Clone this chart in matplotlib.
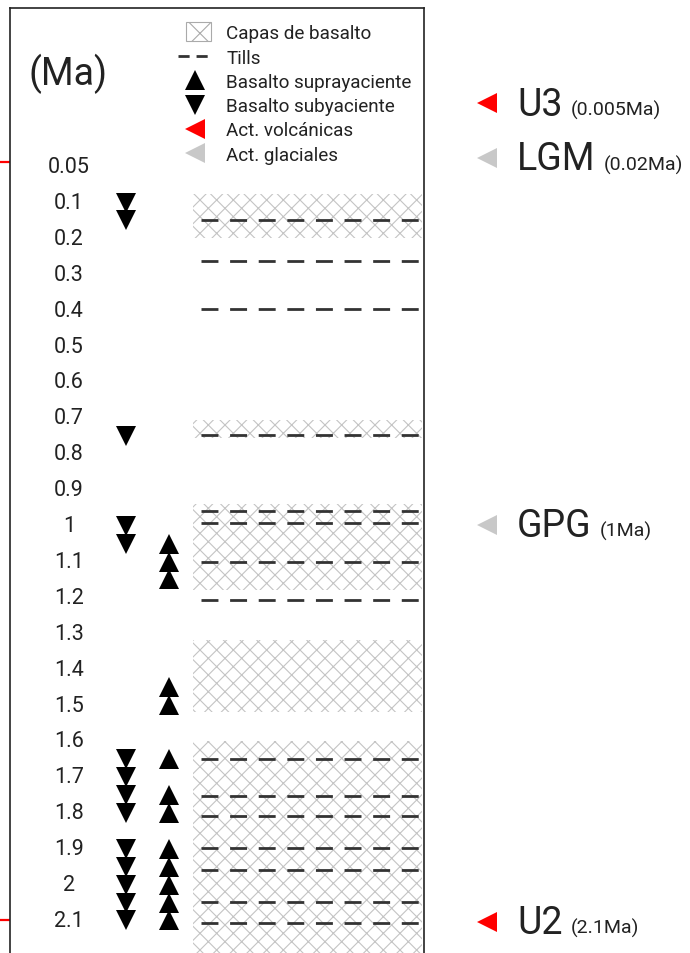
import matplotlib
matplotlib.use("Agg")
import matplotlib.pyplot as plt
from matplotlib.patches import Patch, Rectangle
from matplotlib.lines import Line2D
from matplotlib.legend_handler import HandlerPatch

plt.rcParams['font.family'] = ['Roboto', 'DejaVu Sans']
plt.rcParams['hatch.linewidth'] = 0.8
plt.rcParams['lines.scale_dashes'] = False

# ---- data (Ma) ----
tick_labels = ["0.05", "0.1", "0.2", "0.3", "0.4", "0.5", "0.6", "0.7", "0.8", "0.9", "1",
               "1.1", "1.2", "1.3", "1.4", "1.5", "1.6", "1.7", "1.8", "1.9", "2", "2.1"]
tick_positions = [0.0, 0.1, 0.2, 0.3, 0.4, 0.5, 0.6, 0.7, 0.8, 0.9, 1.0,
                  1.1, 1.2, 1.3, 1.4, 1.5, 1.6, 1.7, 1.8, 1.9, 2.0, 2.1]
basalt_layers = [(0.075, 0.2), (0.707, 0.755), (0.94, 1.18), (1.32, 1.52), (1.60, 2.25)]
tills = [0.15, 0.263, 0.397, 0.748, 0.959, 0.993, 1.102, 1.207,
         1.65, 1.753, 1.809, 1.898, 1.959, 2.048, 2.107]
basalto_subyaciente = [0.1, 0.15, 0.75, 1.0, 1.05, 1.65, 1.70, 1.75, 1.80,
                       1.90, 1.95, 2.0, 2.05, 2.10]
basalto_suprayaciente = [1.05, 1.10, 1.15, 1.45, 1.50, 1.65, 1.75, 1.80,
                         1.90, 1.95, 2.0, 2.05, 2.10]
volcanic_ticks = [-0.012, 2.1]
events = ["U3", "LGM", "GPG", "U2"]
event_ages = ["(0.005Ma)", "(0.02Ma)", "(1Ma)", "(2.1Ma)"]
event_kind = ["volc", "glac", "glac", "volc"]
event_label_pos = [-0.177, -0.024, 0.997, 2.103]

RED = "#ff0000"
GRAY = "#c8c8c8"
HATCH_GRAY = "#c4c4c4"
TXT = "#222222"

W, H = 690, 954
fig = plt.figure(figsize=(W / 100, H / 100), dpi=100)
ax = fig.add_axes([10 / W, 0, (424 - 10) / W, (954 - 9) / H])
ax.set_xlim(0, 1)
px_per_ma = 359.0
y0 = 167.6
ax.set_ylim((954 - y0) / px_per_ma, (9 - y0) / px_per_ma)

def xf(px):
    return (px - 10) / 414.0

# hatched basalt layers
for a, b in basalt_layers:
    ax.axhspan(a, b, xmin=xf(193), xmax=xf(422), facecolor="none",
               edgecolor=HATCH_GRAY, hatch="xx", linewidth=0, zorder=1)

# tills
for t in tills:
    ax.plot([xf(201), xf(420)], [t, t], color="#333333", lw=2.0,
            dashes=(12.2, 8.4), solid_capstyle="butt", dash_capstyle="butt", zorder=2)

# triangles
ax.plot([xf(126)] * len(basalto_subyaciente), basalto_subyaciente, linestyle="none",
        marker="v", ms=14.5, mew=0, color="black", zorder=3, clip_on=False)
ax.plot([xf(169)] * len(basalto_suprayaciente), basalto_suprayaciente, linestyle="none",
        marker="^", ms=14.5, mew=0, color="black", zorder=3, clip_on=False)

# age labels
for lab, pos in zip(tick_labels, tick_positions):
    ax.text(xf(69), pos, lab, ha="center", va="center", fontsize=15.5, color=TXT)

ax.text(xf(68.5), (74 - y0) / px_per_ma, "(Ma)", ha="center", va="center", fontsize=27, color=TXT)

# spines & red ticks
for s in ["top", "left", "right"]:
    ax.spines[s].set_color("#222222")
    ax.spines[s].set_linewidth(1.2)
ax.spines["bottom"].set_visible(False)
ax.set_xticks([])
ax.set_yticks(volcanic_ticks)
ax.set_yticklabels([])
ax.tick_params(axis="y", colors=RED, length=7.5, width=1.6, direction="out")

# legend
def small_patch(legend, orig_handle, xdescent, ydescent, width, height, fontsize):
    pw = width * 0.72
    ph = height * 1.45
    return Rectangle((-xdescent + (width - pw) / 2 + 2, -ydescent + (height - ph) / 2),
                     pw, ph)

handles = [
    Patch(facecolor="white", edgecolor="#aaaaaa", hatch="x", linewidth=0.8, label="Capas de basalto"),
    Line2D([], [], color="#333333", lw=2.0, dashes=(8, 5), label="Tills"),
    Line2D([], [], color="black", marker="^", ms=15, mew=0, linestyle="none", label="Basalto suprayaciente"),
    Line2D([], [], color="black", marker="v", ms=15, mew=0, linestyle="none", label="Basalto subyaciente"),
    Line2D([], [], color=RED, marker="<", ms=15, mew=0, linestyle="none", label="Act. volcánicas"),
    Line2D([], [], color=GRAY, marker="<", ms=15, mew=0, linestyle="none", label="Act. glaciales"),
]
leg = fig.legend(handles=handles, loc="upper left", bbox_to_anchor=(178 / W, 1 - 25.5 / H),
                 frameon=False, fontsize=13.6, handlelength=1.85, handletextpad=0.7,
                 labelspacing=0.33, borderpad=0, borderaxespad=0,
                 handler_map={Patch: HandlerPatch(patch_func=small_patch)})
for t in leg.get_texts():
    t.set_color(TXT)

# right-side events
fig.canvas.draw()
renderer = fig.canvas.get_renderer()
for name, age, kind, pos in zip(events, event_ages, event_kind, event_label_pos):
    col = RED if kind == "volc" else GRAY
    ax.plot([xf(487)], [pos], marker="<", ms=14, mew=0, color=col, clip_on=False, zorder=3)
    t = ax.text(xf(517), pos + 0.032, name, ha="left", va="baseline", fontsize=27, color=TXT)
    bb = t.get_window_extent(renderer)
    xdata = ax.transData.inverted().transform((bb.x1 + 8, bb.y0))[0]
    ax.text(xdata, pos + 0.032, age, ha="left", va="baseline", fontsize=14, color=TXT)

fig.savefig("out.png", dpi=100)
